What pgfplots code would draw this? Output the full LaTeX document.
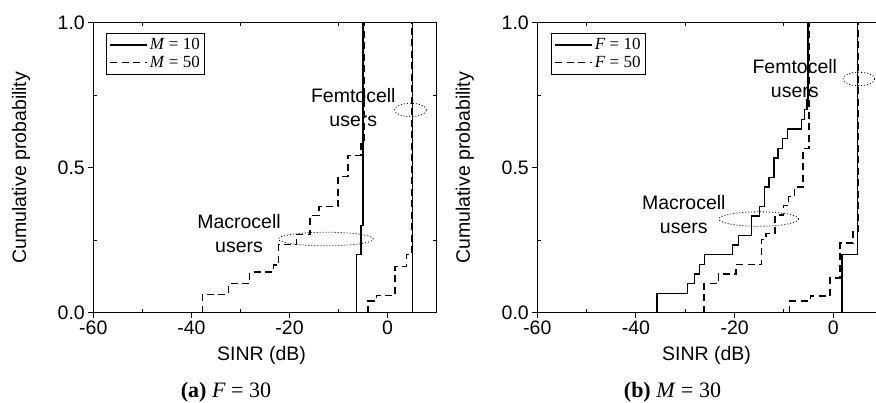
\documentclass[border=0pt]{standalone}
\usepackage{pgfplots}
\pgfplotsset{compat=1.18}
\usepackage{fontspec}
\setmainfont{Liberation Sans}
\newfontfamily\seriffont{Liberation Serif}

\pgfplotsset{
 myaxis/.style={
  scale only axis, height=290pt,
  xmin=-60, xmax=10, ymin=0, ymax=1,
  xtick={-60,-40,-20,0}, xticklabels={-60,-40,-20,0},
  ytick={0,0.5,1}, yticklabels={0.0,0.5,1.0},
  tick align=outside, tick pos=left,
  major tick length=5pt,
  extra x ticks={-50,-30,-10}, extra x tick labels={},
  extra y ticks={0.25,0.75}, extra y tick labels={},
  extra x tick style={tick align=inside, major tick length=3.5pt, xtick pos=both},
  extra y tick style={tick align=inside, major tick length=3.5pt, ytick pos=both},
  tick style={black, line width=1pt},
  axis line style={line width=1.2pt},
  ticklabel style={font=\fontsize{19.5}{21}\selectfont},
  label style={font=\fontsize{19.5}{21}\selectfont},
  xlabel={SINR (dB)}, ylabel={Cumulative probability},
  xlabel style={at={(axis description cs:0.49,-0.146)}, anchor=center},
  ylabel style={at={(axis description cs:-0.21,0.5)}, anchor=center},
  legend style={at={(rel axis cs:0.037,0.964)}, anchor=north west, draw=black, line width=0.8pt,
     font=\seriffont\fontsize{17}{20}\selectfont, inner sep=3pt, row sep=1pt, cells={anchor=west}},
  legend cell align=left,
  legend image code/.code={\draw[#1] (0pt,0pt) -- (37pt,0pt);},
 },
 solidcurve/.style={black, line width=1.4pt},
 dashedcurve/.style={black, line width=1.4pt, dash pattern=on 7pt off 4.5pt},
}
\tikzset{
 elldot/.style={black, line width=0.8pt, dash pattern=on 1pt off 2pt},
 annot/.style={font=\fontsize{19.5}{24}\selectfont, align=center, anchor=center, inner sep=0pt},
}

\begin{document}
\begin{tikzpicture}
\useasboundingbox (0,0) rectangle (876pt,403pt);
\clip (0,0) rectangle (876pt,403pt);

% ---------------- (a) F = 30 ----------------
\begin{axis}[myaxis, width=343.4pt, at={(93.3pt,90.3pt)}, anchor=south west]
\addplot[solidcurve] coordinates {(-6.3,0) (-6.3,0.2) (-5.45,0.2) (-5.45,0.3) (-5.0,0.3) (-5.0,1)};
\addlegendentry{\textit{M} = 10}
\addplot[dashedcurve] coordinates {(-37.8,0) (-37.8,0.063) (-32.5,0.063) (-32.5,0.1) (-28.1,0.1) (-28.1,0.14)
 (-23.3,0.14) (-23.3,0.164) (-22.2,0.164) (-22.2,0.235) (-18.6,0.235) (-18.6,0.27) (-15.8,0.27) (-15.8,0.335)
 (-14.0,0.335) (-14.0,0.366) (-10.1,0.366) (-10.1,0.47) (-8.1,0.47) (-8.1,0.543) (-5.4,0.543) (-5.4,0.582)
 (-4.8,0.582) (-4.8,1)};
\addlegendentry{\textit{M} = 50}
\addplot[solidcurve, forget plot] coordinates {(5.1,0) (5.1,1)};
\addplot[dashedcurve, forget plot] coordinates {(-4.0,0) (-4.0,0.04) (-2.3,0.04) (-2.3,0.06) (1.5,0.06) (1.5,0.16)
 (3.9,0.16) (3.9,0.2) (4.95,0.2) (4.95,1)};
\draw[elldot] (axis cs:4.67,0.699) ellipse [x radius=15.9pt, y radius=6.7pt];
\draw[elldot] (axis cs:-12.6,0.254) ellipse [x radius=47.5pt, y radius=6.8pt];
\node[annot] at (axis cs:-7.0,0.707) {Femtocell\\users};
\node[annot] at (axis cs:-30.3,0.274) {Macrocell\\users};
\end{axis}

% ---------------- (b) M = 30 ----------------
\begin{axis}[myaxis, width=345.3pt, at={(537.3pt,90.3pt)}, anchor=south west,
  legend style={at={(rel axis cs:0.04,0.964)}}]
\addplot[solidcurve] coordinates {(-35.7,0) (-35.7,0.067) (-29.5,0.067) (-29.5,0.1) (-28.1,0.1) (-28.1,0.133)
 (-27.1,0.133) (-27.1,0.167) (-26.1,0.167) (-26.1,0.2) (-20.4,0.2) (-20.4,0.233) (-19.2,0.233) (-19.2,0.267)
 (-16.6,0.267) (-16.6,0.333) (-15.0,0.333) (-15.0,0.367) (-14.0,0.367) (-14.0,0.433) (-13.0,0.433) (-13.0,0.467)
 (-12.0,0.467) (-12.0,0.533) (-11.2,0.533) (-11.2,0.567) (-10.3,0.567) (-10.3,0.6) (-9.25,0.6) (-9.25,0.633)
 (-6.4,0.633) (-6.4,0.667) (-5.8,0.667) (-5.8,0.7) (-5.3,0.7) (-5.3,0.733) (-5.1,0.733) (-5.1,1)};
\addlegendentry{\textit{F} = 10}
\addplot[dashedcurve] coordinates {(-26.2,0) (-26.2,0.1) (-23.3,0.1) (-23.3,0.133) (-19.7,0.133) (-19.7,0.167)
 (-14.5,0.167) (-14.5,0.253) (-13.6,0.253) (-13.6,0.274) (-11.8,0.274) (-11.8,0.337) (-10.1,0.337) (-10.1,0.37)
 (-9.1,0.37) (-9.1,0.40) (-7.8,0.40) (-7.8,0.433) (-6.1,0.433) (-6.1,0.567) (-4.95,0.567) (-4.95,1)};
\addlegendentry{\textit{F} = 50}
\addplot[solidcurve, forget plot] coordinates {(1.8,0) (1.8,0.2) (4.9,0.2) (4.9,1)};
\addplot[dashedcurve, forget plot] coordinates {(-8.9,0) (-8.9,0.04) (-4.6,0.04) (-4.6,0.058) (-0.7,0.058)
 (-0.7,0.12) (1.4,0.12) (1.4,0.24) (4.0,0.24) (4.0,0.28) (5.05,0.28) (5.05,1)};
\draw[elldot] (axis cs:5.2,0.806) ellipse [x radius=15.8pt, y radius=6.7pt];
\draw[elldot] (axis cs:-15.1,0.323) ellipse [x radius=39.8pt, y radius=7.2pt];
\node[annot] at (axis cs:-7.8,0.808) {Femtocell\\users};
\node[annot] at (axis cs:-30.3,0.337) {Macrocell\\users};
\end{axis}

\node[anchor=base, font=\seriffont\fontsize{22}{24}\selectfont] at (226pt,5pt) {\textbf{(a)} \textit{F} = 30};
\node[anchor=base, font=\seriffont\fontsize{22}{24}\selectfont] at (672.5pt,5pt) {\textbf{(b)} \textit{M} = 30};
\end{tikzpicture}
\end{document}
